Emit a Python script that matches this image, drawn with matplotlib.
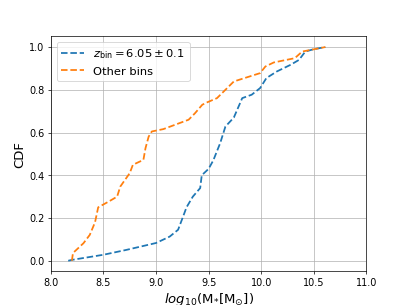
import numpy as np
import matplotlib.pyplot as plt

# CDF of stellar mass
blue_x = [8.165, 8.2, 8.5, 8.72, 9.0, 9.13, 9.21, 9.26, 9.29, 9.35, 9.42,
          9.435, 9.5, 9.545, 9.61, 9.66, 9.74, 9.82, 9.91, 9.99, 10.05,
          10.15, 10.28, 10.36, 10.42, 10.5, 10.61]
blue_y = [0.0, 0.004, 0.028, 0.051, 0.083, 0.113, 0.145, 0.21, 0.25, 0.30,
          0.34, 0.40, 0.43, 0.47, 0.55, 0.628, 0.67, 0.761, 0.777, 0.808,
          0.855, 0.886, 0.917, 0.94, 0.979, 0.99, 1.0]

orange_x = [8.2, 8.21, 8.31, 8.37, 8.42, 8.45, 8.55, 8.63, 8.66, 8.75, 8.78,
            8.88, 8.9, 8.93, 8.96, 9.07, 9.31, 9.37, 9.44, 9.48, 9.58, 9.66,
            9.74, 9.99, 10.04, 10.12, 10.32, 10.39, 10.61]
orange_y = [0.0, 0.036, 0.082, 0.121, 0.18, 0.25, 0.277, 0.30, 0.347, 0.41,
            0.449, 0.472, 0.527, 0.581, 0.605, 0.616, 0.66, 0.69, 0.73, 0.74,
            0.761, 0.80, 0.839, 0.878, 0.909, 0.928, 0.948, 0.979, 1.0]

fig, ax = plt.subplots(figsize=(6.4, 4.8))

ax.plot(blue_x, blue_y, '--', lw=2, color='tab:blue', label=r'$z_{\rm bin} = 6.05 \pm 0.1$')
ax.plot(orange_x, orange_y, '--', lw=2, color='tab:orange', label='Other bins')

ax.set_xlim(8.0, 11.0)
ax.set_xlabel(r'$log_{10}$(M$_{*}$[M$_{\odot}$])', fontsize=15)
ax.set_ylabel('CDF', fontsize=15)
ax.tick_params(labelsize=11)
ax.grid(True)
ax.legend(loc='upper left', fontsize=13)

fig.savefig('out.png', dpi=407 / 6.4)
